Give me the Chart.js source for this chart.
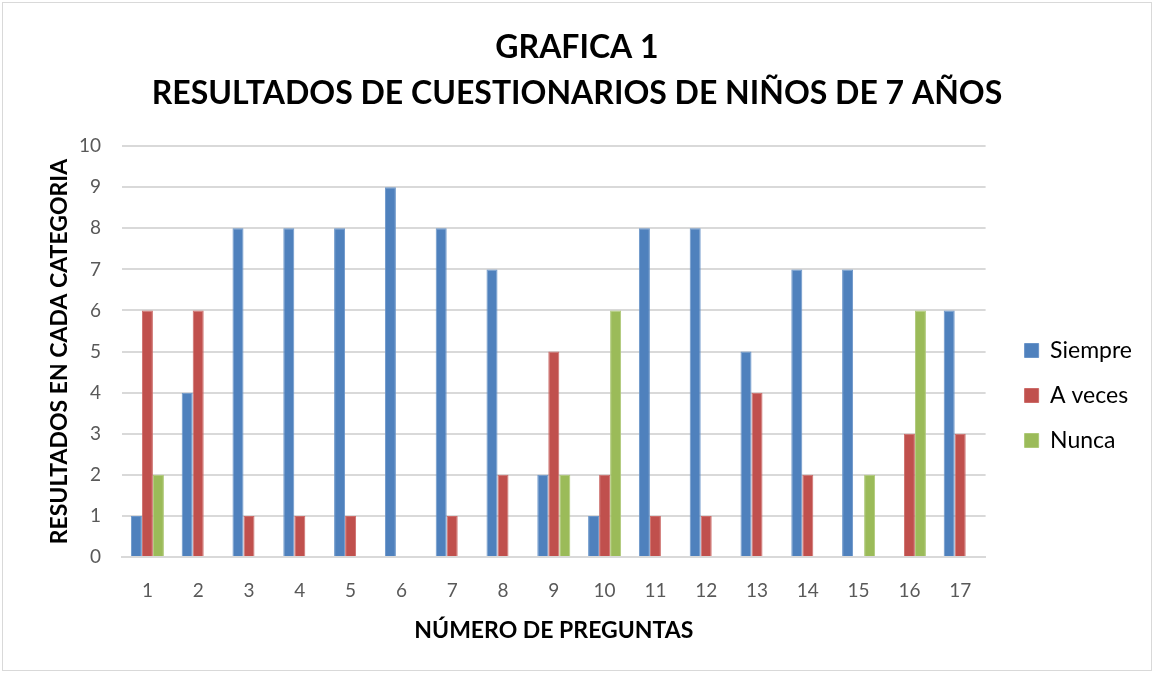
<!DOCTYPE html>
<html>
<head>
<meta charset="utf-8">
<script src="https://cdn.jsdelivr.net/npm/chart.js@4/dist/chart.umd.min.js"></script>
<style>
  html, body { margin: 0; padding: 0; background: #fff; }
  #wrap { position: absolute; left: 2px; top: 2px; width: 1148px; height: 667px; border: 1px solid #d9d9d9; }
</style>
</head>
<body>
<div id="wrap"><canvas id="myChart" width="1148" height="667"></canvas></div>
<script>
var preguntas = ["1", "2", "3", "4", "5", "6", "7", "8", "9", "10", "11", "12", "13", "14", "15", "16", "17"];
var siempre = [1, 4, 8, 8, 8, 9, 8, 7, 2, 1, 8, 8, 5, 7, 7, 0, 6];
var aVeces = [6, 6, 1, 1, 1, 0, 1, 2, 5, 2, 1, 1, 4, 2, 0, 3, 3];
var nunca = [2, 0, 0, 0, 0, 0, 0, 0, 2, 6, 0, 0, 0, 0, 2, 6, 0];

var font = "Lato, 'Open Sans', sans-serif";

// move the legend a bit away from the plot, like the original
var legendPos = {
  id: "legendPos",
  afterLayout: function (chart) {
    var lg = chart.legend;
    var dx = chart.chartArea.right + 17 - lg.left;
    lg.left += dx;
    lg.right += dx;
    var h = lg.bottom - lg.top;
    lg.top = 314;
    lg.bottom = 314 + h;
  },
};

var ctx = document.getElementById("myChart");
var myChart = new Chart(ctx, {
  type: "bar",
  data: {
    labels: preguntas,
    datasets: [
      { label: "Siempre", data: siempre, backgroundColor: "#4f81bd", borderColor: "#6a95c9", borderWidth: 1 },
      { label: "A veces", data: aVeces, backgroundColor: "#c0504d", borderColor: "#cc6b68", borderWidth: 1 },
      { label: "Nunca", data: nunca, backgroundColor: "#9bbb59", borderColor: "#aec977", borderWidth: 1 },
    ],
  },
  plugins: [legendPos],
  options: {
    responsive: false,
    animation: false,
    layout: { padding: { left: 26, right: 26, top: 8, bottom: 22 } },
    datasets: {
      bar: { categoryPercentage: 0.65, barPercentage: 1.0 },
    },
    scales: {
      x: {
        afterFit: function (scale) { scale.height = 91; },
        grid: { display: false },
        border: { color: "#d9d9d9", width: 2 },
        ticks: { color: "#595959", font: { family: font, size: 19 }, padding: 14 },
        title: {
          display: true,
          text: "NÚMERO DE PREGUNTAS",
          color: "#000",
          font: { family: font, size: 23, weight: "bold" },
          padding: { top: 4, bottom: 4 },
        },
      },
      y: {
        afterFit: function (scale) { scale.width = 93; },
        min: 0,
        max: 10,
        ticks: { stepSize: 1, color: "#595959", font: { family: font, size: 19 }, padding: 21 },
        grid: { color: "#d9d9d9", lineWidth: 2, drawTicks: false },
        border: { display: false },
        title: {
          display: true,
          text: "RESULTADOS EN CADA CATEGORIA",
          color: "#000",
          font: { family: font, size: 23, weight: "bold" },
          padding: { top: 17, bottom: 4 },
        },
      },
    },
    plugins: {
      title: {
        display: true,
        text: ["GRAFICA 1", "RESULTADOS DE CUESTIONARIOS DE NIÑOS DE 7 AÑOS"],
        color: "#000",
        font: { family: font, size: 32, weight: "bold", lineHeight: 1.44 },
        padding: { top: 14, bottom: 29 },
      },
      legend: {
        display: true,
        position: "right",
        align: "start",
        labels: {
          color: "#000",
          font: { family: font, size: 23 },
          boxWidth: 14,
          boxHeight: 14,
          padding: 22,
        },
      },
      tooltip: { enabled: false },
    },
  },
});
</script>
</body>
</html>
